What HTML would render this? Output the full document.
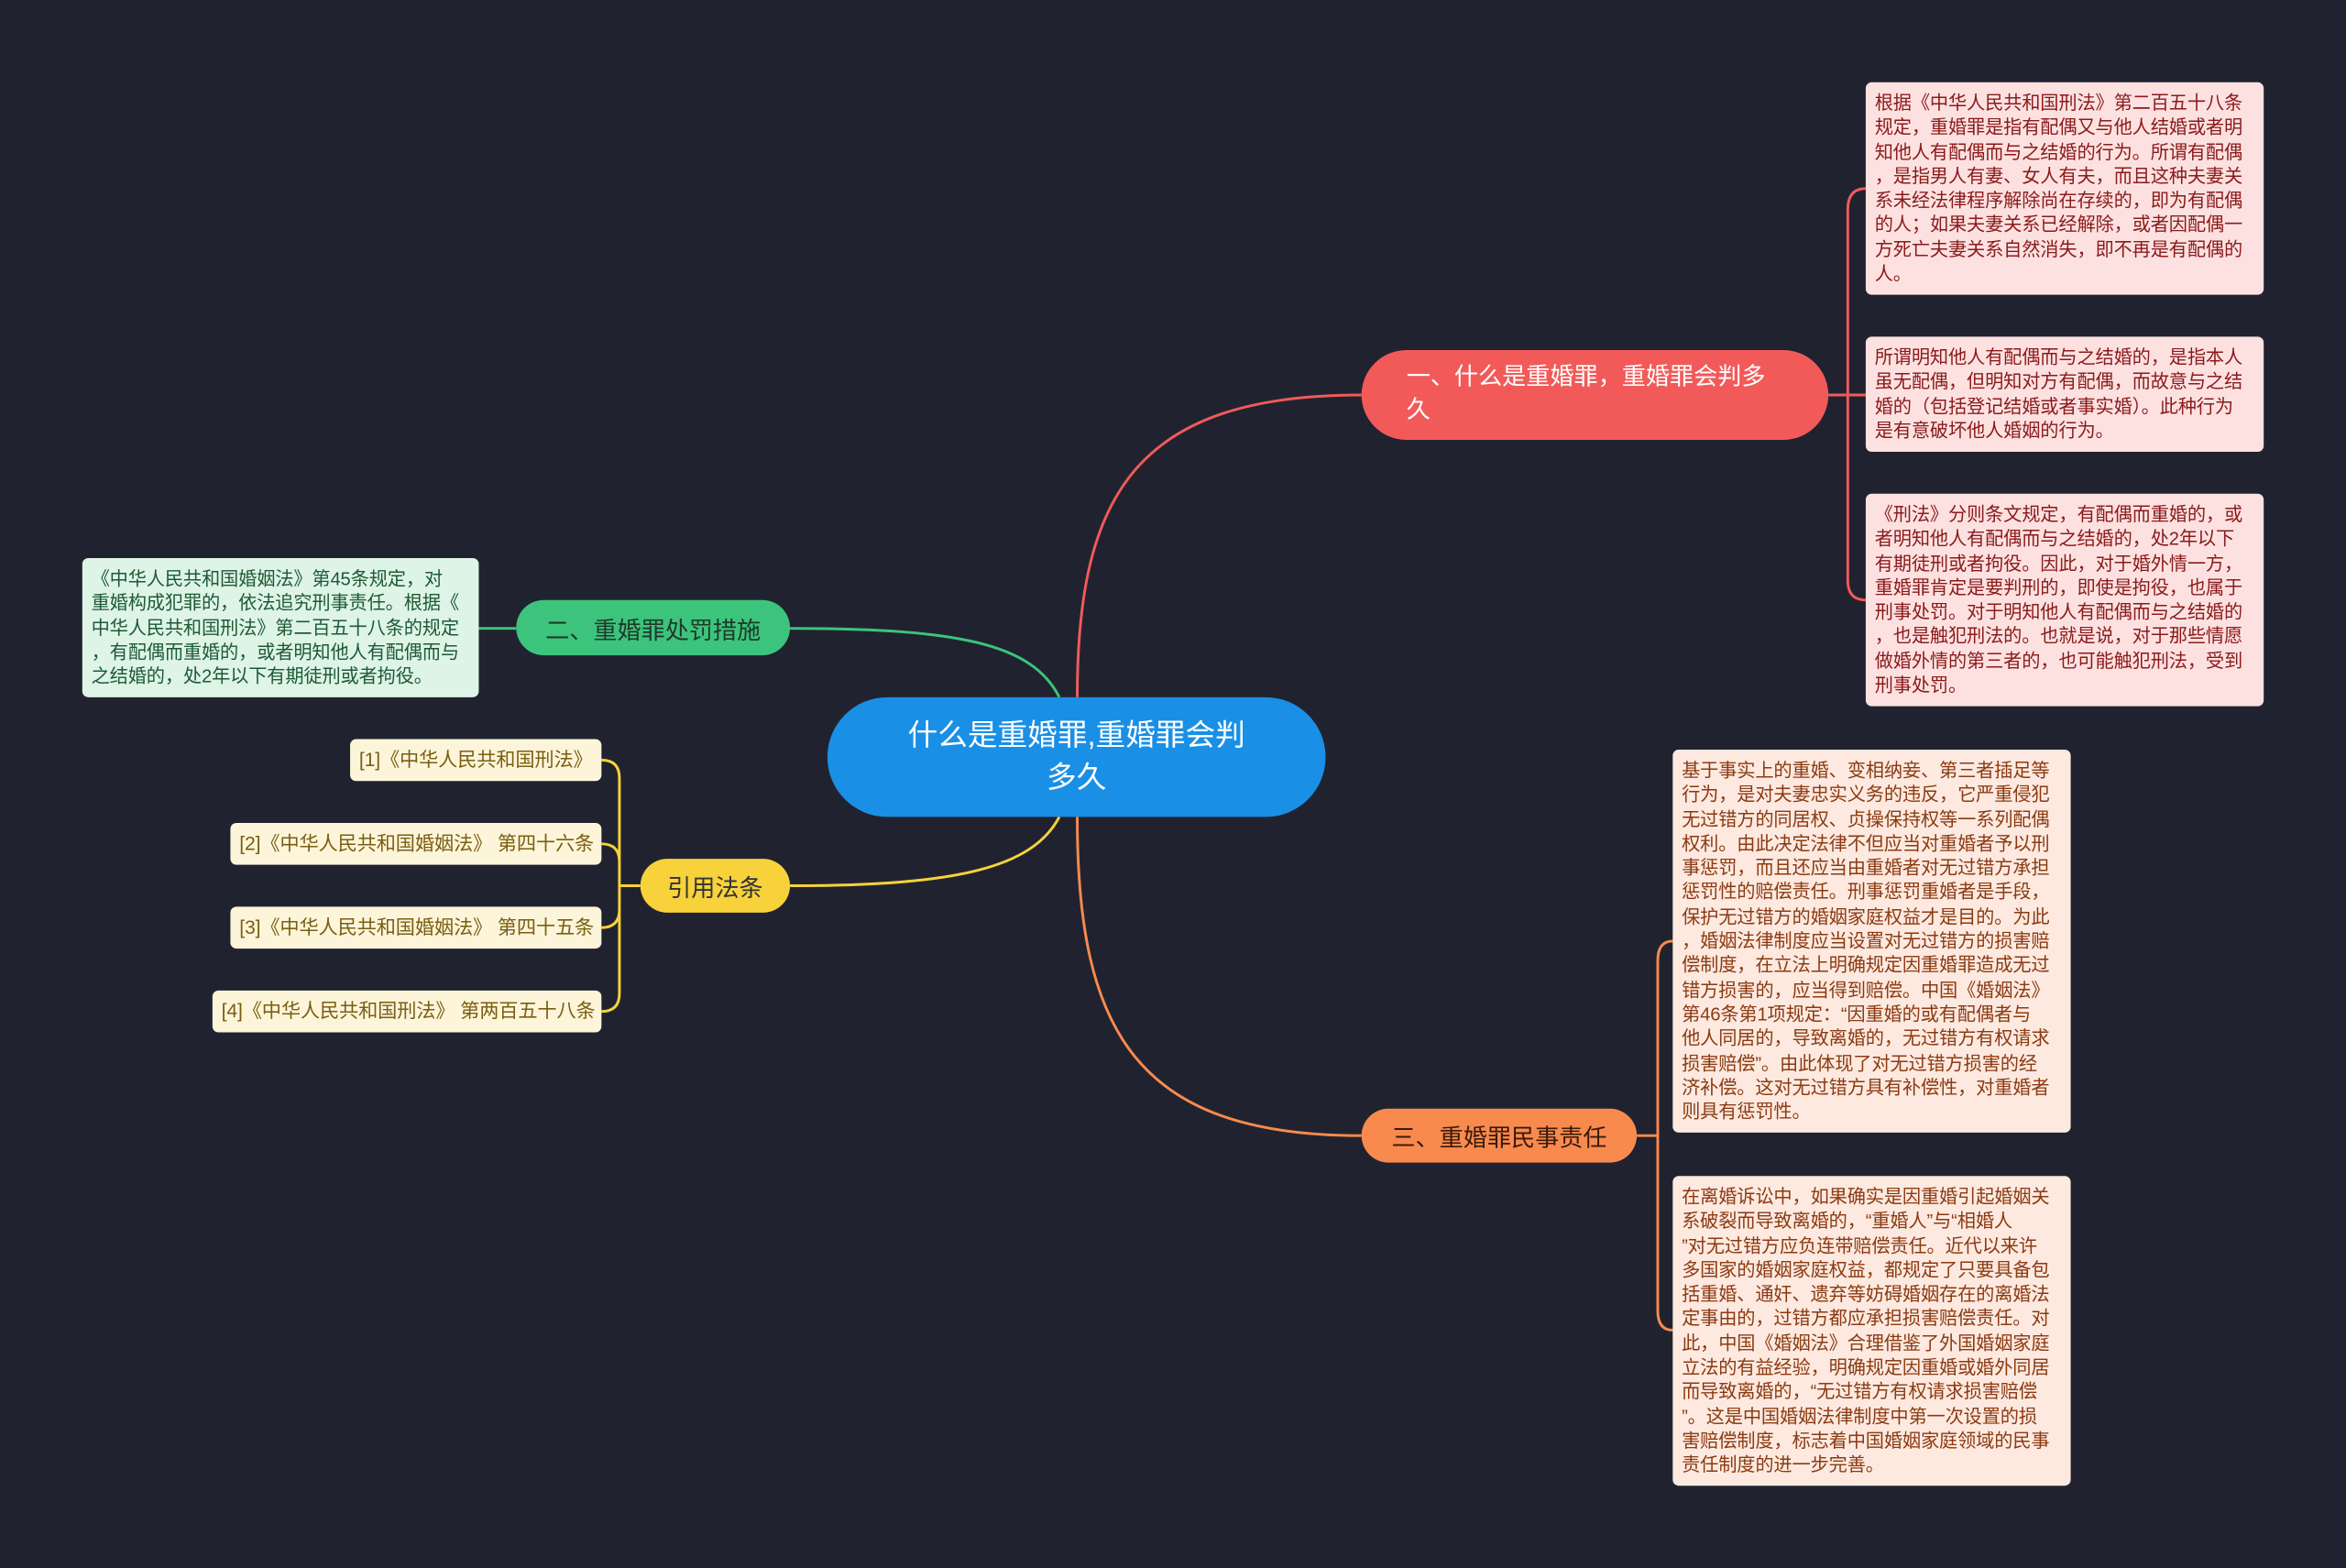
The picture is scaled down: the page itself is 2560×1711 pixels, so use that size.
<!DOCTYPE html>
<html><head><meta charset="utf-8"><style>
body{margin:0;background:#20232f;width:2560px;height:1711px;overflow:hidden}
#s{position:absolute;left:0;top:0;width:1568px;height:1048px;transform:scale(1.63265);transform-origin:0 0;font-family:"Liberation Sans","Noto Sans CJK SC",sans-serif}
.n{position:absolute;box-sizing:border-box;display:flex;align-items:center}
.l{position:absolute;box-sizing:border-box;border-radius:4px;font-size:12.4px;line-height:16.3px;padding:6px 6px;white-space:nowrap;letter-spacing:-0.1px}
.r{background:#fde1e1;color:#8b1a1a}
.o{background:#fde9df;color:#8b3a12}
.g{background:#def4e6;color:#1d5a34}
.y{background:#fdf5da;color:#7a5e12;padding:0 6px;line-height:28px;font-size:13px;text-align:right}
</style></head><body><div id="s">
<svg width="1568" height="1048" style="position:absolute;left:0;top:0" fill="none" stroke-width="1.8">
<path d="M720 466 C720 330 760 264 910 264" stroke="#f25a5a"/>
<path d="M720 546 C720 690 760 759 910 759" stroke="#f98a4e"/>
<path d="M708 466 C690 430 640 420 528 420" stroke="#3cc47c"/>
<path d="M708 546 C690 580 640 592 528 592" stroke="#f8d23a"/>
<path d="M345 420 L320 420" stroke="#3cc47c"/>
<path d="M1222 264 L1247 264 M1235 264 L1235 140 Q1235 126 1247 126 M1235 264 L1235 388 Q1235 401 1247 401" stroke="#f25a5a"/>
<path d="M1094 759 L1108 759 M1108 759 L1108 642 Q1108 629 1118 629 M1108 759 L1108 876 Q1108 889 1118 889" stroke="#f98a4e"/>
<path d="M428 592 L414 592 M414 592 L414 520 Q414 508 402 508 M414 592 L414 576 Q414 564 402 564 M414 592 L414 608 Q414 620 402 620 M414 592 L414 664 Q414 676 402 676" stroke="#f8d23a"/>
</svg>
<div class="n" style="left:553px;top:466px;width:333px;height:80px;background:#1a8fe6;border-radius:40px;color:#fff;font-size:20px;line-height:28px;justify-content:center;text-align:center">什么是重婚罪,重婚罪会判<br>多久</div>
<div class="n" style="left:910px;top:234px;width:312px;height:60px;background:#f25a5a;border-radius:30px;color:#fff;font-size:16px;line-height:22px;padding:0 30px">一、什么是重婚罪，重婚罪会判多<br>久</div>
<div class="n" style="left:345px;top:401px;width:183px;height:37px;background:#3cc47c;border-radius:19px;color:#1d3a2a;font-size:16px;justify-content:center">二、重婚罪处罚措施</div>
<div class="n" style="left:428px;top:574px;width:100px;height:36px;background:#f8d23a;border-radius:18px;color:#333;font-size:16px;justify-content:center">引用法条</div>
<div class="n" style="left:910px;top:741px;width:184px;height:36px;background:#f98a4e;border-radius:18px;color:#3a1a0a;font-size:16px;justify-content:center">三、重婚罪民事责任</div>
<div class="l r" style="left:1247px;top:55px;width:266px;height:142px">根据《中华人民共和国刑法》第二百五十八条<br>规定，重婚罪是指有配偶又与他人结婚或者明<br>知他人有配偶而与之结婚的行为。所谓有配偶<br>，是指男人有妻、女人有夫，而且这种夫妻关<br>系未经法律程序解除尚在存续的，即为有配偶<br>的人；如果夫妻关系已经解除，或者因配偶一<br>方死亡夫妻关系自然消失，即不再是有配偶的<br>人。</div>
<div class="l r" style="left:1247px;top:225px;width:266px;height:77px">所谓明知他人有配偶而与之结婚的，是指本人<br>虽无配偶，但明知对方有配偶，而故意与之结<br>婚的（包括登记结婚或者事实婚）。此种行为<br>是有意破坏他人婚姻的行为。</div>
<div class="l r" style="left:1247px;top:330px;width:266px;height:142px">《刑法》分则条文规定，有配偶而重婚的，或<br>者明知他人有配偶而与之结婚的，处2年以下<br>有期徒刑或者拘役。因此，对于婚外情一方，<br>重婚罪肯定是要判刑的，即使是拘役，也属于<br>刑事处罚。对于明知他人有配偶而与之结婚的<br>，也是触犯刑法的。也就是说，对于那些情愿<br>做婚外情的第三者的，也可能触犯刑法，受到<br>刑事处罚。</div>
<div class="l g" style="left:55px;top:373px;width:265px;height:93px">《中华人民共和国婚姻法》第45条规定，对<br>重婚构成犯罪的，依法追究刑事责任。根据《<br>中华人民共和国刑法》第二百五十八条的规定<br>，有配偶而重婚的，或者明知他人有配偶而与<br>之结婚的，处2年以下有期徒刑或者拘役。</div>
<div class="l y" style="left:234px;top:494px;width:168px;height:28px">[1]《中华人民共和国刑法》</div>
<div class="l y" style="left:154px;top:550px;width:248px;height:28px">[2]《中华人民共和国婚姻法》 第四十六条</div>
<div class="l y" style="left:154px;top:606px;width:248px;height:28px">[3]《中华人民共和国婚姻法》 第四十五条</div>
<div class="l y" style="left:142px;top:662px;width:260px;height:28px">[4]《中华人民共和国刑法》 第两百五十八条</div>
<div class="l o" style="left:1118px;top:501px;width:266px;height:256px">基于事实上的重婚、变相纳妾、第三者插足等<br>行为，是对夫妻忠实义务的违反，它严重侵犯<br>无过错方的同居权、贞操保持权等一系列配偶<br>权利。由此决定法律不但应当对重婚者予以刑<br>事惩罚，而且还应当由重婚者对无过错方承担<br>惩罚性的赔偿责任。刑事惩罚重婚者是手段，<br>保护无过错方的婚姻家庭权益才是目的。为此<br>，婚姻法律制度应当设置对无过错方的损害赔<br>偿制度，在立法上明确规定因重婚罪造成无过<br>错方损害的，应当得到赔偿。中国《婚姻法》<br>第46条第1项规定：“因重婚的或有配偶者与<br>他人同居的，导致离婚的，无过错方有权请求<br>损害赔偿”。由此体现了对无过错方损害的经<br>济补偿。这对无过错方具有补偿性，对重婚者<br>则具有惩罚性。</div>
<div class="l o" style="left:1118px;top:786px;width:266px;height:207px">在离婚诉讼中，如果确实是因重婚引起婚姻关<br>系破裂而导致离婚的，“重婚人”与“相婚人<br>”对无过错方应负连带赔偿责任。近代以来许<br>多国家的婚姻家庭权益，都规定了只要具备包<br>括重婚、通奸、遗弃等妨碍婚姻存在的离婚法<br>定事由的，过错方都应承担损害赔偿责任。对<br>此，中国《婚姻法》合理借鉴了外国婚姻家庭<br>立法的有益经验，明确规定因重婚或婚外同居<br>而导致离婚的，“无过错方有权请求损害赔偿<br>”。这是中国婚姻法律制度中第一次设置的损<br>害赔偿制度，标志着中国婚姻家庭领域的民事<br>责任制度的进一步完善。</div>
</div></body></html>
